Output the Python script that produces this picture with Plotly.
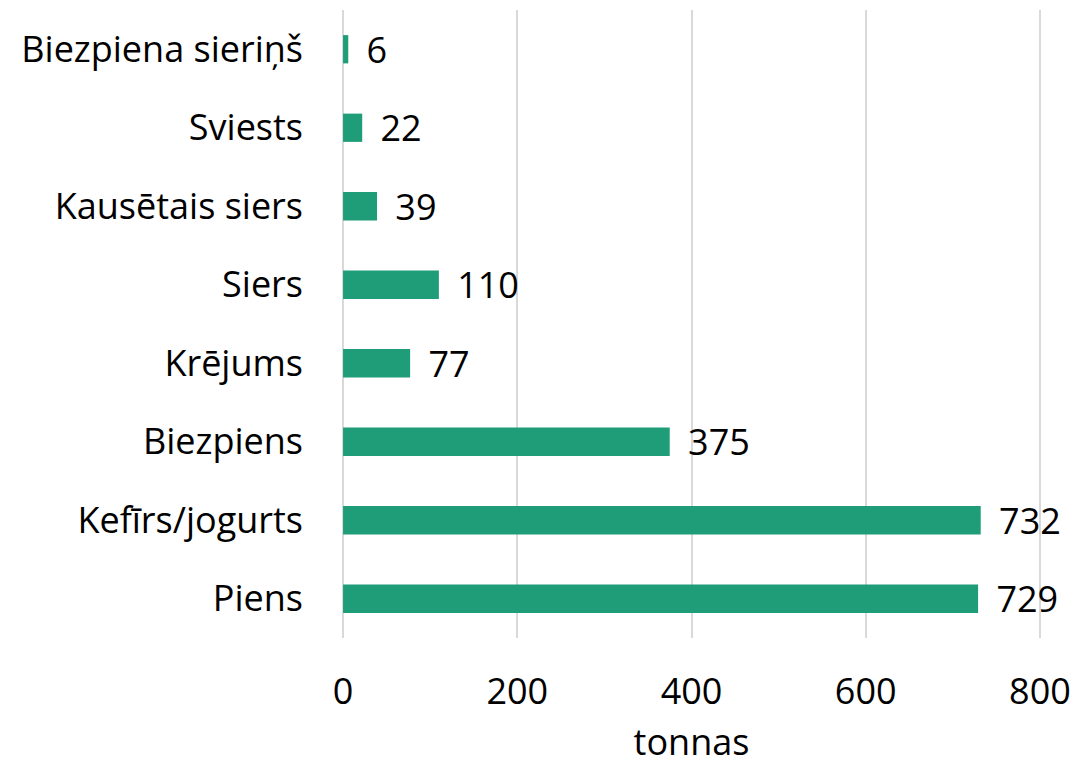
import plotly.graph_objects as go

categories = ["Piens", "Kefīrs/jogurts", "Biezpiens", "Krējums", "Siers",
              "Kausētais siers", "Sviests", "Biezpiena sieriņš"]
values = [729, 732, 375, 77, 110, 39, 22, 6]
x_ticks = [0, 200, 400, 600, 800]

FONT = "Open Sans"
SIZE = 36

fig = go.Figure(go.Bar(
    y=categories, x=values, orientation="h",
    marker=dict(color="#1f9c78", line=dict(width=0)),
    width=0.36,
    text=["\u00a0\u2009" + str(v) for v in values], textposition="outside",
    constraintext="none",
    textfont=dict(family=FONT, size=SIZE, color="#000000"),
    cliponaxis=False,
))

fig.update_layout(
    width=1071, height=758,
    margin=dict(l=334, r=38, t=2, b=128),
    paper_bgcolor="white", plot_bgcolor="white",
    showlegend=False,
    font=dict(family=FONT, size=SIZE, color="#000000"),
    xaxis=dict(range=[-1.2, 801.2], tickvals=x_ticks, showgrid=True,
               gridcolor="#d9d9d9", gridwidth=2, zeroline=False,
               showline=False, ticks="", ticklen=0, automargin=False,
               ticklabelstandoff=29,
               tickfont=dict(family=FONT, size=SIZE),
               title=dict(text="tonnas", font=dict(family=FONT, size=SIZE), standoff=17)),
    yaxis=dict(showgrid=False, zeroline=False, showline=False, ticks="",
               automargin=False, ticklabelstandoff=38,
               tickfont=dict(family=FONT, size=SIZE)),
)

fig.write_html("out.html")
